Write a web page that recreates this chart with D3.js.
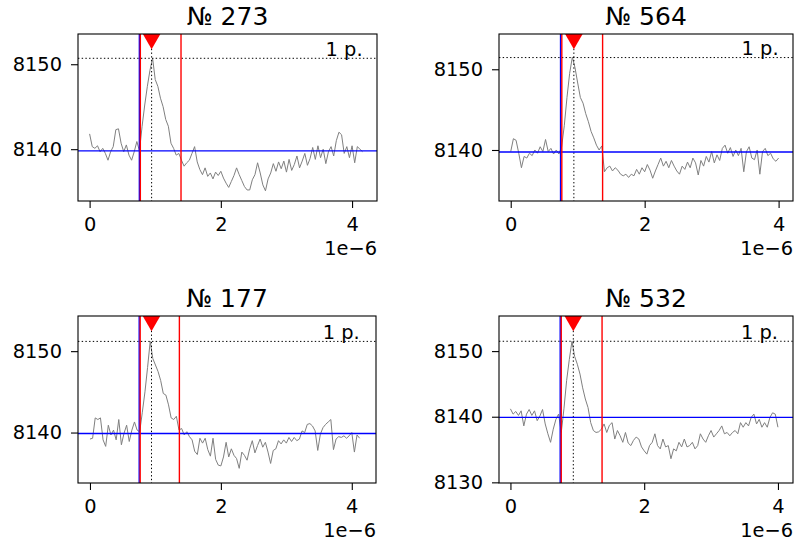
<!DOCTYPE html>
<html>
<head>
<meta charset="utf-8">
<script src="https://cdn.jsdelivr.net/npm/d3@7"></script>
<style>
body { margin: 0; background: #fff; }
svg { font-family: "DejaVu Sans", sans-serif; }
</style>
</head>
<body>
<svg width="795" height="547"></svg>
<script>
// sample spacing of the traces, in units of 1e-6
var sampleStep = 0.04;

var titles = ["№ 273", "№ 564", "№ 177", "№ 532"];

var trace273 = [
	8141.8, 8140.3, 8140.1, 8140.4, 8139.7, 8140.1, 8139.5, 8138.7, 8139.7, 8140.3,
	8142.3, 8142.4, 8140.7, 8139.7, 8140.5, 8139.3, 8138.7, 8139.7, 8140.9, 8139.8,
	8142.7, 8145.2, 8147.4, 8149.3, 8150.7, 8148.2, 8147.4, 8146.0, 8145.0, 8143.5,
	8142.7, 8140.7, 8140.1, 8139.3, 8139.5, 8138.7, 8138.0, 8138.4, 8138.7, 8139.5,
	8140.3, 8138.5, 8137.6, 8137.0, 8137.8, 8136.8, 8137.2, 8136.5, 8137.3, 8136.9,
	8137.4, 8136.6, 8136.0, 8135.5, 8136.2, 8136.9, 8137.8, 8137.0, 8136.3, 8135.6,
	8135.2, 8135.2, 8136.4, 8137.0, 8138.4, 8137.2, 8135.8, 8135.1, 8136.5, 8137.2,
	8138.3, 8137.4, 8138.5, 8137.7, 8138.6, 8137.3, 8138.8, 8137.5, 8138.2, 8139.2,
	8137.8, 8138.6, 8139.5, 8138.1, 8138.9, 8140.2, 8138.8, 8140.4, 8139.0, 8140.0,
	8138.3, 8139.7, 8140.3, 8139.2, 8141.0, 8142.0, 8141.7, 8139.5, 8140.3, 8139.0,
	8140.4, 8138.4, 8140.3, 8140.0, 8139.7
];

var trace564 = [
	8139.8, 8141.4, 8141.2, 8139.6, 8137.8, 8139.2, 8139.0, 8139.6, 8139.3, 8140.0,
	8139.6, 8140.4, 8139.8, 8141.3, 8139.8, 8140.2, 8139.5, 8140.0, 8139.5, 8140.4,
	8143.0, 8146.5, 8149.5, 8151.5, 8150.2, 8148.3, 8146.5, 8145.8, 8144.5, 8143.5,
	8142.3, 8141.5, 8140.6, 8140.0, 8140.5, 8137.3, 8137.8, 8138.0, 8137.4, 8137.8,
	8137.5, 8137.0, 8136.8, 8137.0, 8136.6, 8137.0, 8136.8, 8137.6, 8137.0, 8137.8,
	8137.3, 8138.2, 8137.5, 8136.5, 8137.4, 8138.2, 8139.0, 8138.0, 8138.6, 8137.8,
	8138.7, 8138.0, 8137.4, 8137.0, 8138.0, 8137.6, 8138.5, 8137.8, 8139.0, 8138.4,
	8136.9, 8138.7, 8138.0, 8139.2, 8138.5, 8139.8, 8138.4, 8139.4, 8138.7, 8140.2,
	8140.6, 8139.6, 8140.3, 8139.2, 8140.0, 8139.3, 8140.2, 8137.3, 8139.8, 8140.4,
	8139.0, 8138.8, 8140.0, 8137.0, 8139.8, 8140.2, 8139.3, 8139.6, 8138.9, 8138.6,
	8139.0
];

var trace177 = [
	8139.2, 8139.3, 8141.8, 8141.6, 8141.8, 8139.1, 8138.3, 8140.9, 8139.7, 8140.3,
	8139.1, 8141.6, 8138.5, 8139.9, 8140.9, 8138.9, 8140.3, 8141.3, 8140.3, 8140.1,
	8142.5, 8145.0, 8148.0, 8151.2, 8149.1, 8148.3, 8147.5, 8146.4, 8144.8, 8144.6,
	8143.4, 8141.8, 8141.6, 8142.0, 8140.3, 8140.5, 8139.7, 8140.1, 8139.5, 8139.1,
	8137.7, 8137.3, 8139.3, 8138.7, 8139.3, 8137.9, 8137.1, 8139.3, 8136.7, 8136.0,
	8135.9, 8137.0, 8138.8, 8137.0, 8138.0, 8137.2, 8136.8, 8135.6, 8137.6, 8137.2,
	8136.6, 8138.0, 8139.0, 8137.5, 8138.4, 8139.2, 8138.2, 8138.8, 8137.6, 8136.2,
	8137.8, 8138.0, 8139.0, 8138.6, 8139.1, 8138.7, 8139.4, 8138.9, 8139.4, 8139.0,
	8139.2, 8140.2, 8140.0, 8141.0, 8141.1, 8140.8, 8140.2, 8137.8, 8139.8, 8140.6,
	8141.0, 8141.3, 8141.6, 8137.9, 8139.2, 8139.5, 8139.4, 8139.6, 8139.3, 8139.6,
	8140.0, 8137.6, 8139.7, 8139.3
];

var trace532 = [
	8141.2, 8140.4, 8140.8, 8140.2, 8140.9, 8138.6, 8140.4, 8141.1, 8140.2, 8140.9,
	8139.4, 8140.1, 8141.1, 8138.9, 8137.4, 8136.1, 8138.1, 8139.6, 8140.4, 8137.6,
	8141.2, 8145.5, 8148.7, 8151.5, 8149.2, 8148.0, 8146.5, 8144.4, 8142.7, 8141.4,
	8139.1, 8137.9, 8137.6, 8137.7, 8138.1, 8138.9, 8137.6, 8138.7, 8139.1, 8136.6,
	8137.9, 8137.1, 8136.1, 8137.6, 8136.0, 8135.6, 8136.4, 8136.9, 8136.6, 8135.4,
	8134.8, 8134.3, 8135.6, 8136.1, 8137.4, 8135.6, 8135.1, 8136.6, 8135.4, 8135.6,
	8133.6, 8135.1, 8134.8, 8136.1, 8135.4, 8136.6, 8135.4, 8135.6, 8136.1, 8135.1,
	8135.6, 8137.4, 8136.6, 8136.1, 8137.1, 8137.9, 8136.9, 8137.4, 8137.9, 8138.6,
	8137.4, 8137.6, 8137.1, 8137.6, 8137.9, 8137.4, 8139.1, 8138.4, 8139.1, 8138.6,
	8139.9, 8140.4, 8138.9, 8139.6, 8138.4, 8139.1, 8138.4, 8139.9, 8140.6, 8140.4,
	8138.4
];

var traces = [trace273, trace564, trace177, trace532];

var baseLevels = [8139.8, 8139.75, 8139.88, 8139.9];   // blue horizontal
var peakLevels = [8150.7, 8151.45, 8151.2, 8151.5];    // dotted horizontal
var blueStarts = [0.758, 0.744, 0.752, 0.744];
var redStarts = [0.773, 0.763, 0.767, 0.76];
var redEnds = [1.393, 1.372, 1.366, 1.37];
var peakTimes = [0.945, 0.943, 0.94, 0.94];

var xDomains = [[-0.177, 4.38], [-0.175, 4.215], [-0.183, 4.37], [-0.171, 4.225]];
var yDomains = [[8133.9, 8153.56], [8133.68, 8154.37], [8133.8, 8154.32], [8129.9, 8155.35]];
var yTickValues = [[8140, 8150], [8140, 8150], [8140, 8150], [8130, 8140, 8150]];
var xTickValues = [0, 2, 4];
var peakLabel = "1 p.";
var offsetLabel = "1e\u22126";

// axes boxes in pixels
var boxes = [
	{left: 78, right: 377, top: 34, bottom: 201},
	{left: 499, right: 793, top: 34, bottom: 201},
	{left: 78, right: 376, top: 316, bottom: 483},
	{left: 499, right: 793, top: 316, bottom: 483}
];

var svg = d3.select("svg");
var tickFont = 19.4;

function plot(k) {
	var b = boxes[k],
		w = b.right - b.left,
		h = b.bottom - b.top,
		data = traces[k];

	var x = d3.scaleLinear().domain(xDomains[k]).range([0, w]);
	var y = d3.scaleLinear().domain(yDomains[k]).range([h, 0]);

	var g = svg.append("g").attr("transform", "translate(" + b.left + "," + b.top + ")");

	g.append("clipPath").attr("id", "clip" + k)
		.append("rect").attr("width", w).attr("height", h);

	var inner = g.append("g").attr("clip-path", "url(#clip" + k + ")");

	var line = d3.line()
		.x(function(d, i) { return x(i * sampleStep); })
		.y(function(d) { return y(d); });

	inner.append("path")
		.attr("d", line(data))
		.attr("fill", "none")
		.attr("stroke", "#808080")
		.attr("stroke-width", 1);

	// dotted peak guides
	inner.append("line")
		.attr("x1", 0).attr("x2", w)
		.attr("y1", y(peakLevels[k])).attr("y2", y(peakLevels[k]))
		.attr("stroke", "#000").attr("stroke-width", 1).attr("stroke-dasharray", "1.4,2.3");
	inner.append("line")
		.attr("x1", x(peakTimes[k])).attr("x2", x(peakTimes[k]))
		.attr("y1", 0).attr("y2", h)
		.attr("stroke", "#000").attr("stroke-width", 1).attr("stroke-dasharray", "1.4,2.3");

	inner.append("line")
		.attr("x1", 0).attr("x2", w)
		.attr("y1", y(baseLevels[k])).attr("y2", y(baseLevels[k]))
		.attr("stroke", "#0000ff").attr("stroke-width", 1.4);

	inner.append("line")
		.attr("x1", x(blueStarts[k])).attr("x2", x(blueStarts[k]))
		.attr("y1", 0).attr("y2", h)
		.attr("stroke", "#0000ff").attr("stroke-width", 1.4);

	[redStarts[k], redEnds[k]].forEach(function(t) {
		inner.append("line")
			.attr("x1", x(t)).attr("x2", x(t))
			.attr("y1", 0).attr("y2", h)
			.attr("stroke", "#ff0000").attr("stroke-width", 1.4);
	});

	// peak marker, half clipped by the top spine
	inner.append("path")
		.attr("d", d3.symbol().type(d3.symbolTriangle).size(300))
		.attr("transform", "translate(" + x(peakTimes[k]) + ",0) rotate(180)")
		.attr("fill", "#ff0000");

	g.append("text")
		.attr("x", x((data.length - 1) * sampleStep))
		.attr("y", y(peakLevels[k]) - 2.5)
		.attr("text-anchor", "end")
		.style("font-size", tickFont + "px")
		.text(peakLabel);

	var xAxis = d3.axisBottom(x).tickValues(xTickValues).tickFormat(d3.format("d"))
		.tickSizeInner(7).tickSizeOuter(0).tickPadding(9);
	var yAxis = d3.axisLeft(y).tickValues(yTickValues[k]).tickFormat(d3.format("d"))
		.tickSizeInner(7).tickSizeOuter(0).tickPadding(9);

	var gx = g.append("g").attr("transform", "translate(0," + h + ")").call(xAxis);
	var gy = g.append("g").call(yAxis);
	[gx, gy].forEach(function(a) {
		a.select(".domain").remove();
		a.selectAll("line").attr("stroke", "#000").attr("stroke-width", 1.1);
		a.selectAll("text").attr("fill", "#000")
			.style("font-size", tickFont + "px")
			.style("font-family", "DejaVu Sans");
	});

	g.append("rect")
		.attr("width", w).attr("height", h)
		.attr("fill", "none").attr("stroke", "#000").attr("stroke-width", 1.1);

	g.append("text")
		.attr("x", w / 2).attr("y", -9)
		.attr("text-anchor", "middle")
		.style("font-size", "25px")
		.text(titles[k]);

	g.append("text")
		.attr("x", w).attr("y", h + 54)
		.attr("text-anchor", "end")
		.style("font-size", tickFont + "px")
		.text(offsetLabel);
}

for (var k = 0; k < 4; k++) plot(k);
</script>
</body>
</html>
